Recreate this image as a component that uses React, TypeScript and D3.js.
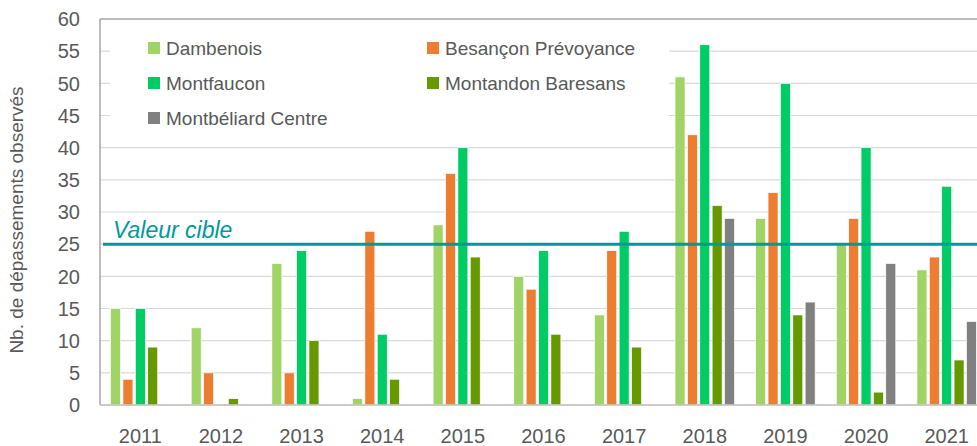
import * as d3 from "d3";

const years = ["2011", "2012", "2013", "2014", "2015", "2016", "2017", "2018", "2019", "2020", "2021"];
const seriesNames = ["Dambenois", "Besançon Prévoyance", "Montfaucon", "Montandon Baresans", "Montbéliard Centre"];
const seriesColors = ["#A1D467", "#ED7D31", "#00CC66", "#669900", "#808080"];

const dambenois = [15, 12, 22, 1, 28, 20, 14, 51, 29, 25, 21];
const besancon = [4, 5, 5, 27, 36, 18, 24, 42, 33, 29, 23];
const montfaucon = [15, 0, 24, 11, 40, 24, 27, 56, 50, 40, 34];
const montandon = [9, 1, 10, 4, 23, 11, 9, 31, 14, 2, 7];
const montbeliard = [0, 0, 0, 0, 0, 0, 0, 29, 16, 22, 13];

const yTicks = [0, 5, 10, 15, 20, 25, 30, 35, 40, 45, 50, 55, 60];
const targetValue = 25;

const W = 977;
const H = 446;
const left = 100;
const top = 19;
const bottom = 405;
const font = "'Liberation Sans', Arial, sans-serif";

export default function App() {
  const values = [dambenois, besancon, montfaucon, montandon, montbeliard];

  const x0 = d3.scaleBand().domain(years).range([left, left + 887]).padding(0);
  const bw = x0.bandwidth();
  const groupW = 59.5;
  const x1 = d3
    .scaleBand()
    .domain(seriesNames)
    .range([(bw - groupW) / 2, (bw + groupW) / 2])
    .paddingInner(0.19)
    .paddingOuter(0);
  const y = d3.scaleLinear().domain([0, 60]).range([bottom, top]);

  // legend: two columns, filled row by row
  const legendCols = [148, 427];
  const legendRows = [48, 83, 118];

  return (
    <svg width={W} height={H} style={{ position: "absolute", left: 0, top: 0, background: "#fff" }}>
      <rect x={0} y={0} width={W} height={H} fill="#fff" />

      {yTicks.map((t) => (
        <line
          key={t}
          x1={left}
          x2={W}
          y1={y(t)}
          y2={y(t)}
          stroke={t === 60 ? "#A6A6A6" : "#D9D9D9"}
          strokeWidth={t === 60 ? 1.5 : 1.2}
        />
      ))}

      {/* legend box hides the grid behind it */}
      <rect x={110} y={26} width={559} height={112} fill="#fff" />

      {years.map((yr, i) => (
        <g key={yr} transform={`translate(${x0(yr)},0)`}>
          {seriesNames.map((s, j) => {
            const v = values[j][i];
            if (!v) return null;
            return (
              <rect
                key={s}
                x={x1(s)}
                y={y(v)}
                width={x1.bandwidth()}
                height={y(0) - y(v)}
                fill={seriesColors[j]}
                stroke="#fff"
                strokeWidth={0.7}
              />
            );
          })}
        </g>
      ))}

      <line x1={left} x2={left} y1={top} y2={bottom} stroke="#A6A6A6" strokeWidth={1.5} />
      <line x1={left} x2={W} y1={bottom} y2={bottom} stroke="#BFBFBF" strokeWidth={1.5} />

      <line x1={103} x2={W} y1={y(targetValue)} y2={y(targetValue)} stroke="#009999" strokeWidth={3} />
      <text x={113} y={238} fill="#009999" fontStyle="italic" fontSize={23} fontFamily={font}>
        Valeur cible
      </text>

      {yTicks.map((t) => (
        <text
          key={t}
          x={80}
          y={y(t)}
          dy="0.36em"
          textAnchor="end"
          fontSize={20}
          fill="#595959"
          fontFamily={font}
        >
          {t}
        </text>
      ))}

      {years.map((yr) => (
        <text
          key={yr}
          x={(x0(yr) as number) + bw / 2}
          y={443}
          textAnchor="middle"
          fontSize={20}
          fill="#595959"
          fontFamily={font}
        >
          {yr}
        </text>
      ))}

      <text
        transform={`translate(23,220) rotate(-90)`}
        textAnchor="middle"
        fontSize={19}
        fill="#595959"
        fontFamily={font}
      >
        Nb. de dépassements observés
      </text>

      {seriesNames.map((s, j) => {
        const lx = legendCols[j % 2];
        const ly = legendRows[Math.floor(j / 2)];
        return (
          <g key={s}>
            <rect x={lx} y={ly - 6} width={12} height={12} fill={seriesColors[j]} />
            <text x={lx + 18} y={ly} dy="0.36em" fontSize={19} fill="#595959" fontFamily={font}>
              {s}
            </text>
          </g>
        );
      })}
    </svg>
  );
}
